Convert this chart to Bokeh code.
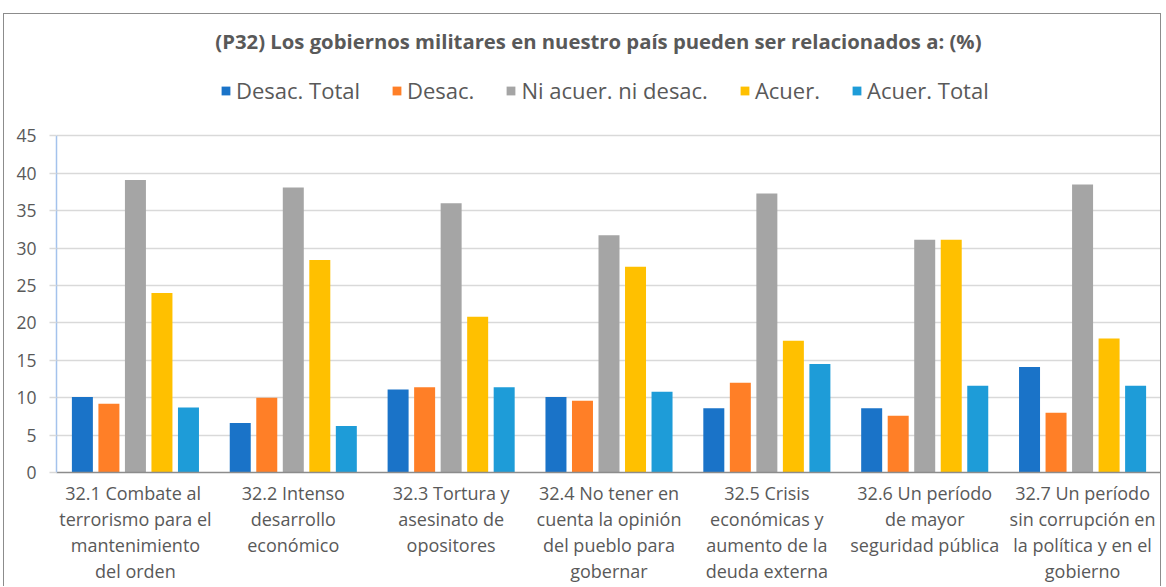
from bokeh.plotting import figure
from bokeh.models import (ColumnDataSource, FactorRange, Range1d, Legend, LegendItem,
                          FixedTicker, Label)
from bokeh.transform import dodge
from bokeh.embed import file_html
from bokeh.resources import INLINE

categories = [
    "32.1  Combate al\nterrorismo para el\nmantenimiento\ndel orden",
    "32.2 Intenso\ndesarrollo\neconómico",
    "32.3 Tortura y\nasesinato de\nopositores",
    "32.4 No tener en\ncuenta la opinión\ndel pueblo para\ngobernar",
    "32.5 Crisis\neconómicas y\naumento de la\ndeuda externa",
    "32.6 Un período\nde mayor\nseguridad pública",
    "32.7 Un período\nsin corrupción en\nla política y en el\ngobierno",
]
series_names = ["Desac. Total", "Desac.", "Ni acuer. ni desac.", "Acuer.", "Acuer. Total"]
desac_total = [10.1, 6.6, 11.1, 10.1, 8.6, 8.6, 14.1]
desac = [9.2, 10.0, 11.4, 9.6, 12.0, 7.6, 8.0]
ni_acuer = [39.1, 38.1, 36.0, 31.7, 37.3, 31.1, 38.5]
acuer = [24.0, 28.4, 20.8, 27.5, 17.6, 31.1, 17.9]
acuer_total = [8.7, 6.2, 11.4, 10.8, 14.5, 11.6, 11.6]
y_ticks = [0, 5, 10, 15, 20, 25, 30, 35, 40, 45]
title_text = "(P32) Los gobiernos militares en nuestro país pueden ser relacionados a: (%)"

colors = ["#1A73C8", "#FF7F27", "#A5A5A5", "#FFC000", "#1E9CD8"]
series_keys = ["s0", "s1", "s2", "s3", "s4"]
offsets = [-0.336, -0.168, 0.0, 0.168, 0.336]

source = ColumnDataSource(data=dict(
    cat=categories, s0=desac_total, s1=desac, s2=ni_acuer, s3=acuer, s4=acuer_total))

# layout (page pixels)
W, H = 1158, 573
top_page = 14
bottom_h = 115
frame_bottom = top_page + H - bottom_h
k = (frame_bottom - 135.3) / 45.0       # px per unit
frame_h = H - bottom_h
y_end = frame_h / k

p = figure(width=W, height=H, x_range=FactorRange(*categories), y_range=Range1d(0, y_end),
           output_backend="svg", toolbar_location=None,
           min_border_left=52, min_border_right=1, min_border_top=0, min_border_bottom=bottom_h)
p.styles = {"margin-left": "3px", "margin-top": "13px",
            "border-left": "1px solid #8c8c8c", "border-right": "1px solid #8c8c8c",
            "border-top": "1px solid #8c8c8c"}
p.outline_line_color = None
p.background_fill_color = "white"
p.border_fill_color = "white"

renderers = []
for key, off, col in zip(series_keys, offsets, colors):
    r = p.vbar(x=dodge("cat", off, range=p.x_range), top=key, width=0.133, source=source,
               fill_color=col, line_color=None)
    renderers.append(r)

# y axis
p.yaxis.ticker = FixedTicker(ticks=y_ticks)
p.yaxis.bounds = (0, 45)
p.yaxis.axis_line_color = "#A4C2EC"
p.yaxis.axis_line_width = 1.5
p.yaxis.major_tick_line_color = "#D9D9D9"
p.yaxis.major_tick_line_width = 1.5
p.yaxis.major_tick_out = 7
p.yaxis.major_tick_in = 0
p.yaxis.minor_tick_line_color = None
p.yaxis.major_label_text_font = "Open Sans"
p.yaxis.major_label_text_font_size = "17.5px"
p.yaxis.major_label_text_color = "#595959"
p.yaxis.major_label_standoff = 13

# x axis with multi-line category labels
ax = p.xaxis[0]
ax.axis_line_color = "#8c8c8c"
ax.axis_line_width = 1.5
ax.major_tick_line_color = None
ax.major_tick_out = 0
ax.major_tick_in = 0
ax.minor_tick_line_color = None
ax.major_label_text_font = "Open Sans"
ax.major_label_text_font_size = "18px"
ax.major_label_text_color = "#595959"
ax.major_label_text_line_height = 1.084
ax.major_label_standoff = 8
ax.major_label_orientation = "horizontal"

p.xgrid.grid_line_color = None
p.ygrid.grid_line_color = "#D9D9D9"
p.ygrid.grid_line_width = 1.5

# title (inside the frame, above the 0-45 data area)
title_y = (frame_bottom - 40) / k
p.add_layout(Label(x=3.433, y=title_y, text=title_text, text_align="center", text_baseline="middle",
                   text_font="Open Sans", text_font_size="20.3px", text_font_style="bold",
                   text_color="#595959"))

legend = Legend(items=[LegendItem(label=n, renderers=[r]) for n, r in zip(series_names, renderers)],
                orientation="horizontal", location=(164, frame_bottom - 105),
                glyph_width=11, glyph_height=11, label_standoff=5, spacing=31,
                padding=0, margin=0, border_line_color=None, background_fill_alpha=0,
                label_text_font="Open Sans", label_text_font_size="22px", label_text_color="#595959")
p.add_layout(legend)

open("out.html", "w").write(file_html(p, INLINE))
